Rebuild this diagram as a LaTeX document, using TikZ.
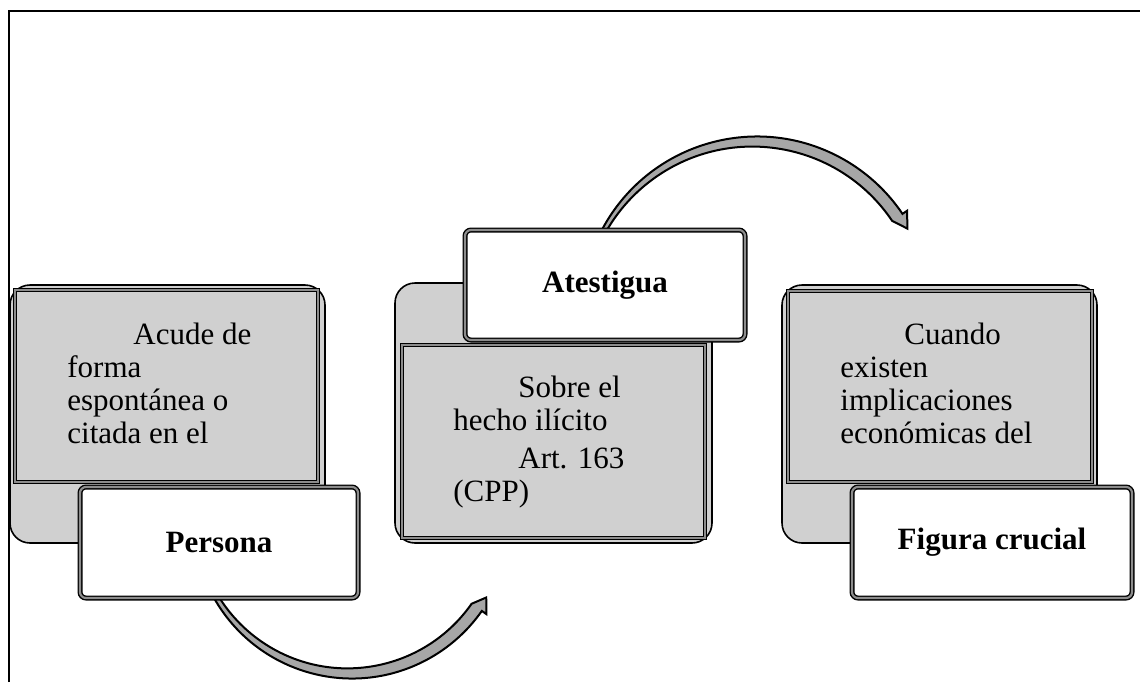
\documentclass[tikz,border=0pt]{standalone}
\usepackage{fontspec}
\setmainfont{Liberation Serif}
\usetikzlibrary{calc}
\definecolor{boxgray}{RGB}{208,208,208}
\definecolor{arrowgray}{RGB}{166,166,166}
\definecolor{rimgray}{RGB}{140,140,140}

\begin{document}
\begin{tikzpicture}[x=0.5pt,y=0.5pt,yscale=-1,
  backbox/.style={draw,line width=0.8pt,fill=boxgray,rounded corners=10pt,inner sep=0pt},
  innerbox/.style={draw,line width=0.5pt,double=rimgray,double distance=0.7pt,fill=boxgray,inner sep=0pt},
  labelbox/.style={draw,line width=0.7pt,double=rimgray,double distance=1.1pt,fill=white,rounded corners=3pt,inner sep=0pt,font=\fontsize{15.5}{16.5}\selectfont\bfseries},
  bodytext/.style={align=left,inner sep=0pt,anchor=base west,font=\fontsize{15.5}{16.5}\selectfont},
  bentarrow/.style={draw,line width=1pt,fill=arrowgray,line join=miter}]
\useasboundingbox (0,0) rectangle (1140,682);
\draw[line width=1pt] (9,682)--(9,10.5)--(1140,10.5);

\coordinate (low) at (352,520);
\coordinate (high) at (757,312);
\filldraw[bentarrow] ($(low)+(152:158.5)$) arc[start angle=152,end angle=35,radius=158.5] -- ($(low)+(35:164)$) -- ($(low)+(30:155)$) -- ($(low)+(35:146)$) arc[start angle=35,end angle=152,radius=151.5] -- cycle;
\filldraw[bentarrow] ($(high)+(208:175.5)$) arc[start angle=208,end angle=326,radius=175.5] -- ($(high)+(326:181)$) -- ($(high)+(331:172)$) -- ($(high)+(326:163)$) arc[start angle=326,end angle=208,radius=168.5] -- cycle;

\node[backbox,minimum width=157.5pt,minimum height=129pt] (back1) at (167.5,414) {};
\node[innerbox,minimum width=151.5pt,minimum height=96pt] (inner1) at (166.5,386) {};
\node[bodytext] (acude) at (67,443) {\hspace*{33pt}Acude de\\forma\\espontánea o\\citada en el};
\node[labelbox,minimum width=139pt,minimum height=55.5pt] (persona) at (219,542.5) {Persona};

\node[backbox,minimum width=158.5pt,minimum height=130pt] (back2) at (553.5,413) {};
\node[innerbox,minimum width=151.5pt,minimum height=96.5pt] (inner2) at (553.5,441.5) {};
\node[bodytext] (sobre) at (453,501) {\hspace*{32.5pt}Sobre el\\hecho ilícito\\[2.5pt]\hspace*{32.5pt}Art. 163\\(CPP)};
\node[labelbox,minimum width=140pt,minimum height=55pt] (atestigua) at (605,285) {Atestigua};

\node[backbox,minimum width=157.5pt,minimum height=129pt] (back3) at (939.5,414) {};
\node[innerbox,minimum width=152pt,minimum height=95.5pt] (inner3) at (940,386.5) {};
\node[bodytext] (cuando) at (840,443) {\hspace*{32pt}Cuando\\existen\\implicaciones\\económicas del};
\node[labelbox,minimum width=140pt,minimum height=55.5pt] (figura) at (992,542.5) {Figura crucial};
\end{tikzpicture}
\end{document}
